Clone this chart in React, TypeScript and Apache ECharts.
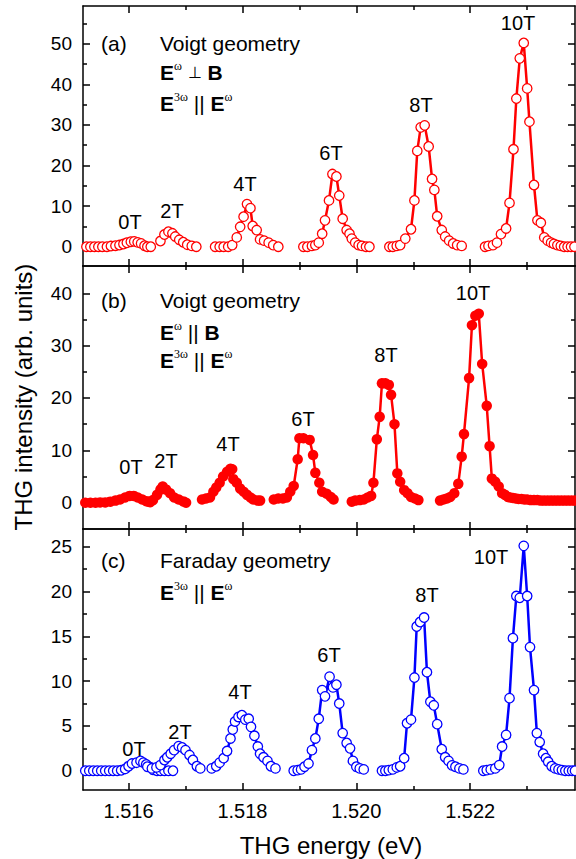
import React, { useEffect, useRef } from "react";
import * as echarts from "echarts";

// ---------------- DATA (energy in eV, intensity in arb. units) ----------------
// Panel (a): Voigt, E_w ⟂ B (open red circles)
const a0x = [1.51526, 1.51533, 1.5154, 1.51547, 1.51554, 1.51562, 1.51569, 1.51577, 1.51584, 1.51591, 1.51597, 1.51604, 1.5161, 1.51616, 1.51622, 1.51628, 1.51633, 1.51639];
const a0y = [0, 0, 0, 0, 0, 0, 0.16, 0.25, 0.41, 0.66, 0.98, 1.23, 1.31, 1.07, 0.82, 0.25, 0, 0];
const a2x = [1.51656, 1.51663, 1.5167, 1.51677, 1.51682, 1.51689, 1.51696, 1.51703, 1.51711, 1.51719];
const a2y = [1.4, 3.0, 3.7, 3.3, 2.5, 1.7, 1.1, 0.5, 0.2, 0];
const a4x = [1.51752, 1.5176, 1.51767, 1.51775, 1.51782, 1.5179, 1.51796, 1.51802, 1.51808, 1.51814, 1.51818, 1.51825, 1.51831, 1.51838, 1.51846, 1.51854, 1.51863];
const a4y = [0, 0, 0, 0, 0.4, 2.3, 4.9, 7.4, 10.5, 9.5, 5.1, 4.1, 1.8, 1.5, 1.0, 0.4, 0];
const a6x = [1.51907, 1.51914, 1.51922, 1.51928, 1.51934, 1.5194, 1.51945, 1.51952, 1.51958, 1.51965, 1.5197, 1.51976, 1.51983, 1.51988, 1.51992, 1.51998, 1.52004, 1.5201, 1.52017, 1.52023];
const a6y = [0, 0, 0.2, 0.4, 1.0, 3.2, 6.5, 11.4, 17.9, 17.3, 12.6, 6.9, 4.1, 3.2, 2.0, 1.0, 0.4, 0.2, 0, 0];
const a8x = [1.52058, 1.52064, 1.52071, 1.52077, 1.52086, 1.52096, 1.52102, 1.52107, 1.52113, 1.5212, 1.52127, 1.52133, 1.52137, 1.52142, 1.5215, 1.52156, 1.52163, 1.5217, 1.52177, 1.52185];
const a8y = [0, 0, 0.2, 0.4, 2.0, 4.3, 11.4, 23.6, 29.4, 29.9, 24.7, 16.7, 14.0, 7.5, 4.1, 2.5, 1.5, 0.8, 0.4, 0.2];
const a10x = [1.52226, 1.52232, 1.5224, 1.52247, 1.52254, 1.52263, 1.52269, 1.52276, 1.52281, 1.52287, 1.52294, 1.523, 1.52304, 1.52312, 1.52318, 1.52324, 1.5233, 1.52336, 1.52342, 1.52347, 1.52353, 1.52359, 1.52365, 1.52371, 1.52377, 1.52383];
const a10y = [0, 0.2, 0.4, 1.0, 3.1, 4.5, 10.8, 24.0, 36.5, 46.4, 50.2, 39.0, 30.8, 15.2, 6.5, 5.9, 2.3, 1.5, 1.0, 0.7, 0.4, 0.2, 0, 0, 0, 0];

// Panel (b): Voigt, E_w || B (filled red circles)
const b0x = [1.51524, 1.51533, 1.51542, 1.5155, 1.51559, 1.51568, 1.51577, 1.51585, 1.51594, 1.51602, 1.51609, 1.51616, 1.51624, 1.51631, 1.51638];
const b0y = [0, 0, 0, 0.06, 0.06, 0.2, 0.4, 0.6, 1.0, 1.3, 1.3, 1.0, 0.6, 0.3, 0.1];
const b2x = [1.51635, 1.51643, 1.5165, 1.51656, 1.5166, 1.51666, 1.51673, 1.5168, 1.51688, 1.51696, 1.51701];
const b2y = [0.2, 0.5, 1.5, 2.5, 3.1, 2.5, 1.8, 1.0, 0.6, 0.25, 0];
const b4x = [1.51729, 1.51736, 1.51743, 1.51749, 1.51754, 1.5176, 1.51766, 1.51773, 1.51779, 1.51782, 1.51784, 1.5179, 1.51796, 1.51802, 1.51808, 1.51814, 1.51819, 1.51827, 1.51831];
const b4y = [0.6, 0.8, 1.0, 2.1, 2.9, 3.8, 5.0, 5.9, 6.5, 6.4, 4.5, 3.8, 2.7, 2.1, 1.5, 1.0, 0.6, 0.4, 0.4];
const b6x = [1.51855, 1.51863, 1.51871, 1.51878, 1.51884, 1.5189, 1.51897, 1.519, 1.51907, 1.51918, 1.51924, 1.51928, 1.51935, 1.5194, 1.51948, 1.51955, 1.5196];
const b6y = [0.6, 0.8, 0.8, 1.0, 2.1, 3.2, 8.3, 12.3, 12.3, 12.0, 9.1, 5.7, 3.8, 2.1, 1.7, 1.1, 0.6];
const b8x = [1.51992, 1.51998, 1.52006, 1.52013, 1.5202, 1.52026, 1.5203, 1.52036, 1.52041, 1.52045, 1.52051, 1.52057, 1.52061, 1.52067, 1.52072, 1.52077, 1.52084, 1.5209, 1.52096, 1.52103, 1.52109];
const b8y = [0.2, 0.4, 0.5, 0.6, 1.0, 1.3, 3.8, 12.1, 16.4, 22.8, 22.8, 22.5, 20.6, 15.0, 5.6, 4.0, 2.4, 1.8, 1.1, 0.8, 0.5];
const b10x = [1.52147, 1.52153, 1.52159, 1.52165, 1.52172, 1.52179, 1.52185, 1.52189, 1.52198, 1.52203, 1.52209, 1.52215, 1.52221, 1.52229, 1.52234, 1.52238, 1.52244, 1.5225, 1.52256, 1.52261, 1.52266, 1.5227, 1.52275, 1.5228, 1.52285, 1.5229, 1.52295, 1.523, 1.52306, 1.52312, 1.52318, 1.52324, 1.5233, 1.52336, 1.52342, 1.52348, 1.52354, 1.5236, 1.52366, 1.52372, 1.52378, 1.52384];
const b10y = [0.4, 0.6, 0.8, 1.1, 1.8, 3.6, 8.8, 13.1, 23.8, 33.9, 35.7, 36.1, 26.5, 18.5, 10.8, 4.6, 4.0, 3.1, 1.8, 1.5, 1.1, 1.0, 0.9, 0.8, 0.7, 0.7, 0.6, 0.6, 0.5, 0.5, 0.5, 0.4, 0.4, 0.4, 0.4, 0.4, 0.4, 0.4, 0.4, 0.4, 0.4, 0.4];

// Panel (c): Faraday (open blue circles)
const c0x = [1.51524, 1.51531, 1.51538, 1.51545, 1.51552, 1.51559, 1.51566, 1.51573, 1.5158, 1.51587, 1.51594, 1.516, 1.51606, 1.51614, 1.51621, 1.51626, 1.51631, 1.51638, 1.51643, 1.5165, 1.51656, 1.51663, 1.5167, 1.51678];
const c0y = [0, 0, 0, 0, 0, 0, 0, 0, 0, 0.05, 0.2, 0.5, 0.8, 0.9, 1.1, 0.9, 0.7, 0.4, 0.1, 0, 0, 0, 0, 0];
const c2x = [1.51633, 1.51641, 1.51649, 1.51656, 1.51663, 1.51668, 1.51674, 1.5168, 1.51688, 1.51694, 1.517, 1.51707, 1.51713, 1.5172, 1.51726];
const c2y = [0.45, 0.26, 0.37, 0.63, 1.2, 1.5, 1.9, 2.3, 2.75, 2.6, 2.3, 1.75, 1.2, 0.5, 0.26];
const c4x = [1.51746, 1.51754, 1.5176, 1.51767, 1.51773, 1.51779, 1.51783, 1.51787, 1.51793, 1.51799, 1.51805, 1.51811, 1.51815, 1.51821, 1.51827, 1.51831, 1.51837, 1.51844, 1.5185, 1.51858];
const c4y = [0.26, 0.5, 0.9, 1.4, 2.2, 3.6, 4.6, 5.5, 6.0, 6.2, 5.7, 5.8, 4.9, 3.9, 2.7, 1.9, 1.5, 1.1, 0.5, 0.26];
const c6x = [1.5189, 1.51897, 1.51903, 1.51909, 1.51916, 1.51922, 1.51928, 1.51934, 1.5194, 1.51945, 1.51953, 1.51959, 1.51965, 1.5197, 1.51976, 1.51983, 1.51989, 1.51994, 1.52, 1.52006, 1.52013];
const c6y = [0, 0.07, 0.15, 0.45, 0.8, 2.3, 3.6, 5.8, 9.0, 8.3, 10.5, 9.3, 9.6, 7.5, 4.2, 3.1, 2.5, 1.1, 0.45, 0.26, 0.15];
const c8x = [1.52045, 1.52051, 1.52057, 1.52064, 1.52071, 1.52077, 1.52084, 1.52089, 1.52096, 1.52102, 1.52106, 1.52112, 1.52119, 1.52124, 1.5213, 1.52136, 1.52142, 1.5215, 1.52156, 1.52162, 1.52168, 1.52174, 1.52181, 1.52188];
const c8y = [0, 0, 0.07, 0.15, 0.37, 0.5, 1.4, 5.3, 5.7, 10.4, 16.1, 16.6, 17.1, 11.0, 7.7, 7.3, 5.2, 2.4, 1.5, 1.1, 0.6, 0.45, 0.26, 0.15];
const c10x = [1.52223, 1.52229, 1.52236, 1.52244, 1.52251, 1.52256, 1.52263, 1.52269, 1.52275, 1.52281, 1.52287, 1.52294, 1.523, 1.52305, 1.52312, 1.52317, 1.52322, 1.52328, 1.52333, 1.52337, 1.52343, 1.52349, 1.52355, 1.52361, 1.52367, 1.52373, 1.52379, 1.52384];
const c10y = [0, 0.07, 0.15, 0.26, 0.63, 2.7, 4.0, 8.1, 14.8, 19.5, 19.3, 25.1, 19.5, 13.8, 9.0, 4.2, 3.2, 1.9, 1.4, 1.0, 0.5, 0.26, 0.15, 0.07, 0, 0, 0, 0];

// Axis ticks
const xMajorTicks = [1.516, 1.518, 1.52, 1.522];
const xMinorTicks = [1.517, 1.519, 1.521, 1.523];
const yMajorTicks = [[0, 10, 20, 30, 40, 50], [0, 10, 20, 30, 40], [0, 5, 10, 15, 20, 25]];
const yMinorTicks = [[5, 15, 25, 35, 45, 55], [5, 15, 25, 35], [2.5, 7.5, 12.5, 17.5, 22.5]];

// Labels
const peakNames = ["0T", "2T", "4T", "6T", "8T", "10T"];
const panelTags = ["(a)", "(b)", "(c)"];
const geometryNames = ["Voigt geometry", "Voigt geometry", "Faraday geometry"];
const xTitle = "THG energy (eV)";
const yTitle = "THG intensity (arb. units)";

// ---------------- LAYOUT / STYLE ----------------
const W = 576;
const H = 859;
const FONT = "'Liberation Sans', Arial, Helvetica, sans-serif";
const SERIF = "'Liberation Serif', 'Times New Roman', serif";
const X_MIN = 1.5152;
const X_MAX = 1.52384;
const Y_RANGE = [[-4.75, 59.3], [-5.02, 45.21], [-2.15, 26.98]];
const GRID = [
  { top: 6, height: 260 },
  { top: 266, height: 263 },
  { top: 529, height: 261 },
];
const GRID_LEFT = 83;
const GRID_RIGHT = 1;
const RED = "#ff0000";
const BLUE = "#0000ff";

// pixel centres of peak labels for each panel
const peakLabelPos = [
  [[130, 222], [172, 211], [245, 184], [331, 153], [421, 105], [518, 23]],
  [[131, 467], [166, 461], [228, 444], [303, 419], [386, 355], [473, 293]],
  [[134, 749], [180, 732], [240, 692], [329, 655], [427, 595], [491, 557]],
];
const headerY = [
  [43, 72, 103],
  [300, 332, 360],
  [560, 592],
];

const AX_COLOR = "#000";
const AX_W = 1.5;

function buildXAxes(i: number) {
  const base: any = {
    gridIndex: i,
    type: "value",
    min: X_MIN,
    max: X_MAX,
    splitLine: { show: false },
    silent: true,
  };
  const lineOn = { show: true, onZero: false, lineStyle: { color: AX_COLOR, width: AX_W } };
  const lineOff = { show: false, onZero: false };
  return [
    {
      ...base,
      position: "bottom",
      axisLine: lineOn,
      axisTick: { show: true, inside: true, length: 7, customValues: xMajorTicks, lineStyle: { color: AX_COLOR, width: AX_W } },
      axisLabel: {
        show: i === 2,
        customValues: xMajorTicks,
        formatter: (v: number) => v.toFixed(3),
        fontSize: 20,
        fontFamily: FONT,
        color: "#000",
        margin: 11,
      },
    },
    {
      ...base,
      position: "bottom",
      axisLine: lineOff,
      axisTick: { show: true, inside: true, length: 4, customValues: xMinorTicks, lineStyle: { color: AX_COLOR, width: AX_W } },
      axisLabel: { show: false },
    },
    {
      ...base,
      position: "top",
      axisLine: lineOn,
      axisTick: { show: true, inside: true, length: 7, customValues: xMajorTicks, lineStyle: { color: AX_COLOR, width: AX_W } },
      axisLabel: { show: false },
    },
    {
      ...base,
      position: "top",
      axisLine: lineOff,
      axisTick: { show: true, inside: true, length: 4, customValues: xMinorTicks, lineStyle: { color: AX_COLOR, width: AX_W } },
      axisLabel: { show: false },
    },
  ];
}

function buildYAxes(i: number) {
  const base: any = {
    gridIndex: i,
    type: "value",
    min: Y_RANGE[i][0],
    max: Y_RANGE[i][1],
    splitLine: { show: false },
    silent: true,
  };
  const lineOn = { show: true, onZero: false, lineStyle: { color: AX_COLOR, width: AX_W } };
  const lineOff = { show: false, onZero: false };
  return [
    {
      ...base,
      position: "left",
      axisLine: lineOn,
      axisTick: { show: true, inside: true, length: 7, customValues: yMajorTicks[i], lineStyle: { color: AX_COLOR, width: AX_W } },
      axisLabel: {
        show: true,
        customValues: yMajorTicks[i],
        fontSize: 19,
        fontFamily: FONT,
        color: "#000",
        margin: 11,
      },
    },
    {
      ...base,
      position: "left",
      axisLine: lineOff,
      axisTick: { show: true, inside: true, length: 4, customValues: yMinorTicks[i], lineStyle: { color: AX_COLOR, width: AX_W } },
      axisLabel: { show: false },
    },
    {
      ...base,
      position: "right",
      axisLine: lineOn,
      axisTick: { show: true, inside: true, length: 7, customValues: yMajorTicks[i], lineStyle: { color: AX_COLOR, width: AX_W } },
      axisLabel: { show: false },
    },
    {
      ...base,
      position: "right",
      axisLine: lineOff,
      axisTick: { show: true, inside: true, length: 4, customValues: yMinorTicks[i], lineStyle: { color: AX_COLOR, width: AX_W } },
      axisLabel: { show: false },
    },
  ];
}

function mkSeries(panel: number, name: string, xs: number[], ys: number[], color: string, filled: boolean) {
  return {
    type: "line",
    name,
    xAxisIndex: panel * 4,
    yAxisIndex: panel * 4,
    data: xs.map((x, k) => [x, ys[k]]),
    symbol: "circle",
    symbolSize: filled ? 10.5 : 9.5,
    showSymbol: true,
    showAllSymbol: true,
    silent: true,
    lineStyle: { color, width: 2.5 },
    itemStyle: { color: filled ? color : "#ffffff", borderColor: color, borderWidth: filled ? 0 : 1.3 },
    emphasis: { disabled: true },
    z: 3,
  };
}

function buildGraphics() {
  const els: any[] = [];
  const textStyle = (txt: string, size = 20) => ({ text: txt, fontSize: size, fontFamily: FONT, fill: "#000" });
  // peak labels
  peakLabelPos.forEach((row) => {
    row.forEach(([x, y], k) => {
      els.push({
        type: "text",
        x,
        y,
        silent: true,
        style: { ...textStyle(peakNames[k], 20), align: "center", verticalAlign: "middle" },
      });
    });
  });
  const rich = {
    b: { fontWeight: "bold", fontSize: 21, fontFamily: FONT, fill: "#000" },
    s: { fontSize: 12, fontFamily: SERIF, fill: "#000", verticalAlign: "top", lineHeight: 24 },
    n: { fontSize: 21, fontFamily: FONT, fill: "#000" },
    p: { fontSize: 16, fontFamily: FONT, fill: "#000" },
  } as any;
  const perpLine = "{b|E}{s|ω}{n| }{p|⊥}{n| }{b|B}";
  const parLine = "{b|E}{s|ω}{n| || }{b|B}";
  const polLine = "{b|E}{s|3ω}{n| || }{b|E}{s|ω}";
  const lines: string[][] = [[perpLine, polLine], [parLine, polLine], [polLine]];
  for (let p = 0; p < 3; p++) {
    const ys = headerY[p];
    els.push({
      type: "text",
      x: 101,
      y: ys[0],
      silent: true,
      style: { ...textStyle(panelTags[p], 21), align: "left", verticalAlign: "middle" },
    });
    els.push({
      type: "text",
      x: 160,
      y: ys[0],
      silent: true,
      style: { ...textStyle(geometryNames[p], 21), align: "left", verticalAlign: "middle" },
    });
    lines[p].forEach((ln, k) => {
      els.push({
        type: "text",
        x: 160,
        y: ys[k + 1],
        silent: true,
        style: { text: ln, rich, align: "left", verticalAlign: "middle", fontSize: 21, fontFamily: FONT, fill: "#000" },
      });
    });
  }
  // axis titles
  els.push({
    type: "text",
    x: 331,
    y: 845,
    silent: true,
    style: { ...textStyle(xTitle, 24), align: "center", verticalAlign: "middle" },
  });
  els.push({
    type: "text",
    x: 23.5,
    y: 397,
    rotation: Math.PI / 2,
    silent: true,
    style: { ...textStyle(yTitle, 24), align: "center", verticalAlign: "middle" },
  });
  return els;
}

export default function App() {
  const ref = useRef<HTMLDivElement>(null);
  useEffect(() => {
    if (!ref.current) return;
    const chart = echarts.init(ref.current, undefined, { renderer: "svg", width: W, height: H });
    const series = [
      mkSeries(0, "a0T", a0x, a0y, RED, false),
      mkSeries(0, "a2T", a2x, a2y, RED, false),
      mkSeries(0, "a4T", a4x, a4y, RED, false),
      mkSeries(0, "a6T", a6x, a6y, RED, false),
      mkSeries(0, "a8T", a8x, a8y, RED, false),
      mkSeries(0, "a10T", a10x, a10y, RED, false),
      mkSeries(1, "b0T", b0x, b0y, RED, true),
      mkSeries(1, "b2T", b2x, b2y, RED, true),
      mkSeries(1, "b4T", b4x, b4y, RED, true),
      mkSeries(1, "b6T", b6x, b6y, RED, true),
      mkSeries(1, "b8T", b8x, b8y, RED, true),
      mkSeries(1, "b10T", b10x, b10y, RED, true),
      mkSeries(2, "c0T", c0x, c0y, BLUE, false),
      mkSeries(2, "c2T", c2x, c2y, BLUE, false),
      mkSeries(2, "c4T", c4x, c4y, BLUE, false),
      mkSeries(2, "c6T", c6x, c6y, BLUE, false),
      mkSeries(2, "c8T", c8x, c8y, BLUE, false),
      mkSeries(2, "c10T", c10x, c10y, BLUE, false),
    ];
    const option: any = {
      animation: false,
      backgroundColor: "#ffffff",
      grid: GRID.map((g) => ({ left: GRID_LEFT, right: GRID_RIGHT, top: g.top, height: g.height, containLabel: false })),
      xAxis: [0, 1, 2].flatMap((i) => buildXAxes(i)),
      yAxis: [0, 1, 2].flatMap((i) => buildYAxes(i)),
      series,
      graphic: buildGraphics(),
    };
    chart.setOption(option);
    return () => chart.dispose();
  }, []);
  return <div ref={ref} style={{ position: "absolute", left: 0, top: 0, width: W, height: H, background: "#fff" }} />;
}
